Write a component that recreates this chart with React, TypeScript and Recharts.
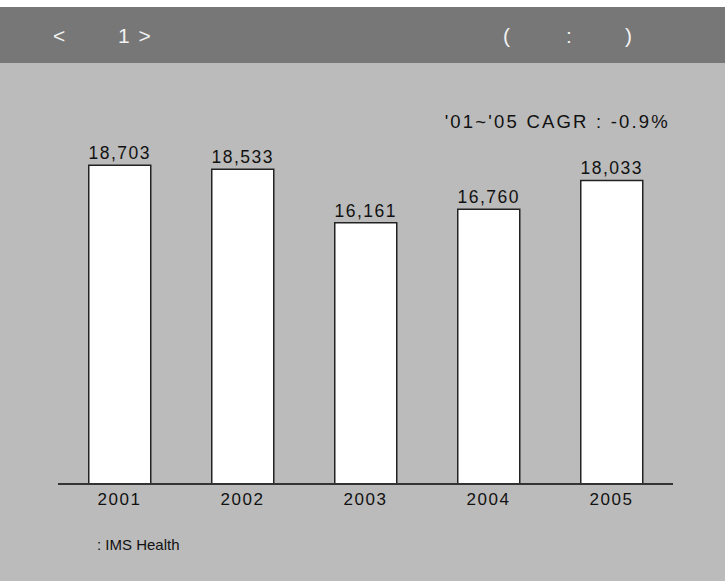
import React from "react";
import { BarChart, Bar, XAxis, YAxis, LabelList } from "recharts";

const years = ["2001", "2002", "2003", "2004", "2005"];
const sales = [18703, 18533, 16161, 16760, 18033];
const cagrText = "'01~'05 CAGR : -0.9%";
const sourceText = ": IMS Health";

const data = years.map((y, i) => ({ year: y, value: sales[i] }));

const FONT = "'Liberation Sans', Arial, sans-serif";

const fmt = (v: any) => Number(v).toLocaleString("en-US");

export default function App() {
  return (
    <div
      style={{
        position: "absolute",
        left: 0,
        top: 0,
        width: 725,
        height: 581,
        background: "#ffffff",
        fontFamily: FONT,
        overflow: "hidden",
      }}
    >
      <div style={{ position: "absolute", left: 0, top: 63, width: 725, height: 518, background: "#bbbbbb" }} />
      <div style={{ position: "absolute", left: 0, top: 7, width: 725, height: 56, background: "#777777" }} />
      <div style={{ position: "absolute", left: 53, top: 22, fontSize: 21, color: "#f2f2f2", lineHeight: "28px" }}>&lt;</div>
      <div style={{ position: "absolute", left: 118, top: 22, fontSize: 21, color: "#f2f2f2", lineHeight: "28px", letterSpacing: 1.5 }}>1 &gt;</div>
      <div style={{ position: "absolute", left: 503, top: 22, fontSize: 21, color: "#f2f2f2", lineHeight: "28px" }}>(</div>
      <div style={{ position: "absolute", left: 566, top: 22, fontSize: 21, color: "#f2f2f2", lineHeight: "28px" }}>:</div>
      <div style={{ position: "absolute", left: 625, top: 22, fontSize: 21, color: "#f2f2f2", lineHeight: "28px" }}>)</div>

      <div style={{ position: "absolute", left: 0, top: 0 }}>
        <BarChart
          width={725}
          height={581}
          data={data}
          margin={{ top: 136, left: 58, right: 52, bottom: 67 }}
          barCategoryGap="25%"
        >
          <XAxis
            dataKey="year"
            axisLine={{ stroke: "#333333", strokeWidth: 2 }}
            tickLine={false}
            tickSize={0}
            tickMargin={9}
            height={30}
            tick={{ fill: "#111111", fontSize: 17, fontFamily: FONT, letterSpacing: 1.6 }}
          />
          <YAxis hide domain={[4595, 20000]} allowDataOverflow />
          <Bar dataKey="value" fill="#ffffff" stroke="#222222" strokeWidth={1.5} isAnimationActive={false}>
            <LabelList
              dataKey="value"
              position="top"
              offset={6}
              formatter={fmt}
              style={{ fill: "#111111", fontSize: 17.5, fontFamily: FONT, letterSpacing: 1.5 }}
            />
          </Bar>
        </BarChart>
      </div>

      <div
        style={{
          position: "absolute",
          right: 725 - 670,
          top: 110,
          fontSize: 18.5,
          color: "#111111",
          letterSpacing: 2.2,
          lineHeight: "24px",
          whiteSpace: "pre",
        }}
      >
        {cagrText}
      </div>
      <div style={{ position: "absolute", left: 97, top: 536, fontSize: 15, color: "#111111", lineHeight: "18px" }}>
        {sourceText}
      </div>
    </div>
  );
}
